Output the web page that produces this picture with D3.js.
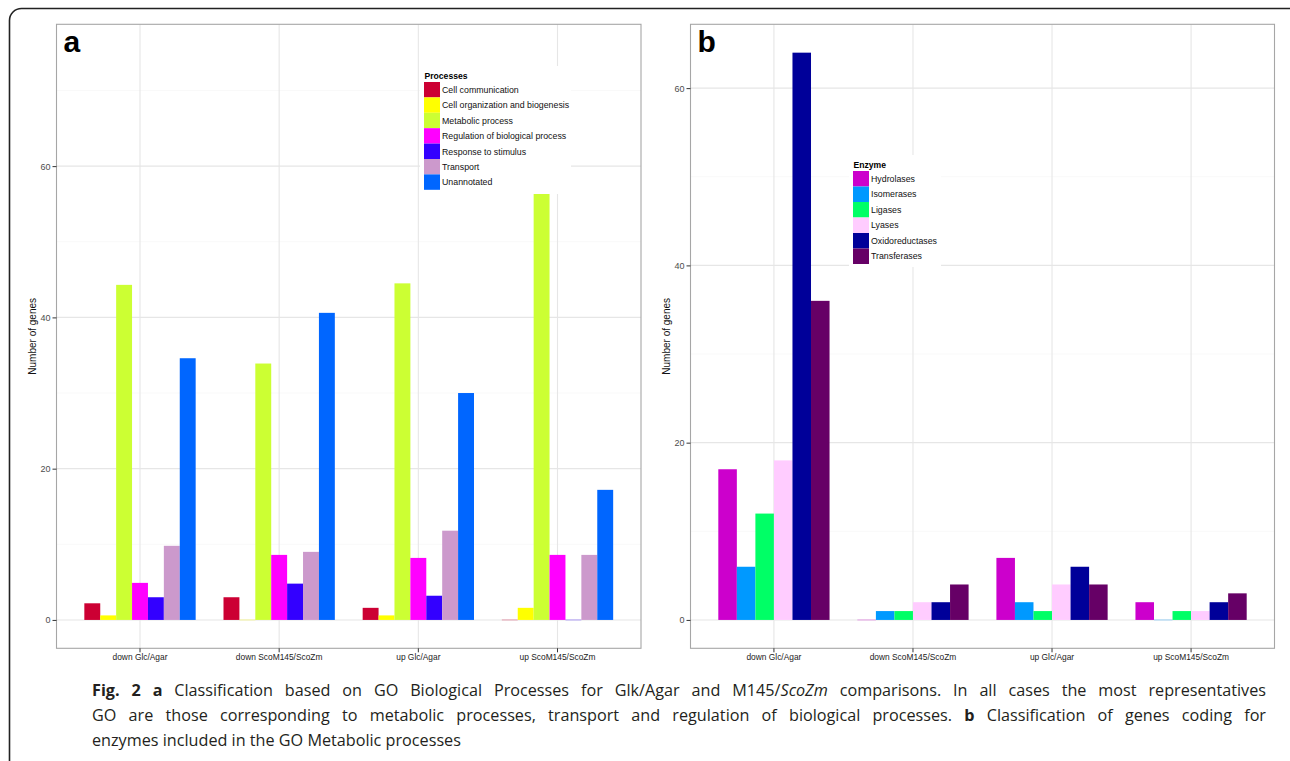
<!DOCTYPE html>
<html><head><meta charset="utf-8">
<script src="https://cdn.jsdelivr.net/npm/d3@7"></script>
<style>
html,body{margin:0;padding:0;background:#fff;}
svg{display:block;}
</style></head>
<body>
<svg id="chart" width="1290" height="761"></svg>
<script>
// ---------- DATA ----------
const categories = ["down Glc/Agar", "down ScoM145/ScoZm", "up Glc/Agar", "up ScoM145/ScoZm"];

const processNames = ["Cell communication", "Cell organization and biogenesis", "Metabolic process",
  "Regulation of biological process", "Response to stimulus", "Transport", "Unannotated"];
const processColors = ["#CC0033", "#FFFF00", "#CCFF33", "#FF00FF", "#3300FF", "#CC99CC", "#0066FF"];
// values per category, in processNames order
const cellCommunication = [2.2, 3.0, 1.6, 0];
const cellOrganization  = [0.6, 0, 0.6, 1.6];
const metabolicProcess  = [44.3, 33.9, 44.5, 56.4];
const regulation        = [4.9, 8.6, 8.2, 8.6];
const responseStimulus  = [3.0, 4.8, 3.2, 0];
const transport         = [9.8, 9.0, 11.8, 8.6];
const unannotated       = [34.6, 40.6, 30.0, 17.2];
const processTicks = [0, 20, 40, 60];
const processMinor = [10, 30, 50, 70];

const enzymeNames = ["Hydrolases", "Isomerases", "Ligases", "Lyases", "Oxidoreductases", "Transferases"];
const enzymeColors = ["#CC00CC", "#0099FF", "#00FF66", "#FFCCFF", "#000099", "#660066"];
const hydrolases      = [17, 0, 7, 2];
const isomerases      = [6, 1, 2, 0];
const ligases         = [12, 1, 1, 1];
const lyases          = [18, 2, 4, 1];
const oxidoreductases = [64, 2, 6, 2];
const transferases    = [36, 4, 4, 3];
const enzymeTicks = [0, 20, 40, 60];
const enzymeMinor = [10, 30, 50];

const processSeries = [cellCommunication, cellOrganization, metabolicProcess, regulation, responseStimulus, transport, unannotated];
const enzymeSeries = [hydrolases, isomerases, ligases, lyases, oxidoreductases, transferases];

// ---------- DRAW ----------
const svg = d3.select("#chart");
const FONT = "'Liberation Sans', Arial, sans-serif";

// outer rounded frame
svg.append("rect").attr("x", 9.5).attr("y", 8.5).attr("width", 1300).attr("height", 800)
  .attr("rx", 12).attr("fill", "none").attr("stroke", "#222").attr("stroke-width", 1.6);

function panel(opts) {
  const {left, right, top, bottom, domain, ticks, minor, names, colors, series, letter, legend} = opts;
  const g = svg.append("g");
  const y = d3.scaleLinear().domain(domain).range([bottom, top]);
  const x = d3.scaleBand().domain(categories).range([left, right]).paddingInner(0.2).paddingOuter(0.2);
  const xi = d3.scaleBand().domain(d3.range(names.length)).range([0, x.bandwidth()]).padding(0);

  // minor grid
  g.selectAll(".minor").data(minor).join("line")
    .attr("x1", left).attr("x2", right).attr("y1", d => y(d)).attr("y2", d => y(d))
    .attr("stroke", "#f7f7f7").attr("stroke-width", 0.8);
  // major grid
  g.selectAll(".majorY").data(ticks).join("line")
    .attr("x1", left).attr("x2", right).attr("y1", d => y(d)).attr("y2", d => y(d))
    .attr("stroke", "#e6e6e6").attr("stroke-width", 1.1);
  g.selectAll(".majorX").data(categories).join("line")
    .attr("x1", d => x(d) + x.bandwidth() / 2).attr("x2", d => x(d) + x.bandwidth() / 2)
    .attr("y1", top).attr("y2", bottom)
    .attr("stroke", "#e6e6e6").attr("stroke-width", 1.1);

  // bars
  const rows = [];
  series.forEach((s, si) => s.forEach((v, ci) => rows.push({si, ci, v})));
  g.selectAll(".bar").data(rows).join("rect")
    .attr("x", d => x(categories[d.ci]) + xi(d.si))
    .attr("width", xi.bandwidth())
    .attr("y", d => d.v === 0 ? y(0) - 0.5 : y(d.v))
    .attr("height", d => d.v === 0 ? 1 : y(0) - y(d.v))
    .attr("fill", d => colors[d.si])
    .attr("opacity", d => d.v === 0 ? 0.35 : 1);

  // border
  g.append("rect").attr("x", left).attr("y", top).attr("width", right - left).attr("height", bottom - top)
    .attr("fill", "none").attr("stroke", "#a6a6a6").attr("stroke-width", 1.1);

  // axes
  const ya = g.append("g").attr("transform", `translate(${left},0)`)
    .call(d3.axisLeft(y).tickValues(ticks).tickSize(4).tickPadding(2));
  ya.select(".domain").remove();
  ya.selectAll("line").attr("stroke", "#333");
  ya.selectAll("text").attr("font-family", FONT).attr("font-size", 9).attr("fill", "#4d4d4d");

  const xa = g.append("g").attr("transform", `translate(0,${bottom})`)
    .call(d3.axisBottom(x).tickSize(4).tickPadding(2));
  xa.select(".domain").remove();
  xa.selectAll("line").attr("stroke", "#333");
  xa.selectAll("text").attr("font-family", FONT).attr("font-size", 8.4).attr("fill", "#222");

  // y title
  g.append("text").attr("transform", `translate(${left - 21},${(top + bottom) / 2}) rotate(-90)`)
    .attr("text-anchor", "middle").attr("font-family", FONT).attr("font-size", 10).attr("fill", "#111")
    .text("Number of genes");

  // panel letter
  g.append("text").attr("x", left + 7).attr("y", top + 28).attr("font-family", FONT)
    .attr("font-weight", "bold").attr("font-size", 30).attr("fill", "#000").text(letter);

  // legend
  const L = legend;
  const lg = g.append("g");
  lg.append("rect").attr("x", L.x).attr("y", L.y).attr("width", L.w).attr("height", L.h).attr("fill", "#fff");
  lg.append("text").attr("x", L.x + 4.5).attr("y", L.y + 12.5).attr("font-family", FONT)
    .attr("font-weight", "bold").attr("font-size", 8.6).attr("fill", "#000").text(L.title);
  lg.selectAll(".key").data(names).join("rect")
    .attr("x", L.x + 4).attr("y", (d, i) => L.y + L.k0 + i * L.step)
    .attr("width", 16).attr("height", L.step).attr("fill", (d, i) => colors[i]);
  lg.selectAll(".lab").data(names).join("text")
    .attr("x", L.x + 22).attr("y", (d, i) => L.y + L.k0 + i * L.step + L.step / 2 + 3.2)
    .attr("font-family", FONT).attr("font-size", 8.8).attr("fill", "#111").text(d => d);
}

panel({left: 56.5, right: 641, top: 24.3, bottom: 648.3, domain: [-3.75, 78.75],
  ticks: processTicks, minor: processMinor, names: processNames, colors: processColors,
  series: processSeries, letter: "a",
  legend: {x: 420, y: 66, w: 151, h: 128, k0: 16, step: 15.4, title: "Processes"}});

panel({left: 690.5, right: 1274.5, top: 24.3, bottom: 648.3, domain: [-3.2, 67.2],
  ticks: enzymeTicks, minor: enzymeMinor, names: enzymeNames, colors: enzymeColors,
  series: enzymeSeries, letter: "b",
  legend: {x: 849, y: 155, w: 92, h: 112, k0: 16, step: 15.5, title: "Enzyme"}});

// ---------- CAPTION (justified) ----------
const capFont = "'Open Sans', 'Noto Sans', sans-serif";
const capSize = 16.2;
const capLeft = 92, capRight = 1266;
const captionLines = [
  {y: 696, justify: true, parts: [["Fig. 2 a", "b"], [" Classification based on GO Biological Processes for Glk/Agar and M145/", ""], ["ScoZm", "i"], [" comparisons. In all cases the most representatives", ""]]},
  {y: 721, justify: true, parts: [["GO are those corresponding to metabolic processes, transport and regulation of biological processes. ", ""], ["b", "b"], [" Classification of genes coding for", ""]]},
  {y: 746, justify: false, parts: [["enzymes included in the GO Metabolic processes", ""]]}
];
const cap = svg.append("g");
captionLines.forEach(line => {
  const words = [];
  let cur = [];
  line.parts.forEach(([txt, st]) => {
    const toks = txt.split(/( )/);
    toks.forEach(t => {
      if (t === " ") { if (cur.length) { words.push(cur); cur = []; } }
      else if (t.length) cur.push([t, st]);
    });
  });
  if (cur.length) words.push(cur);
  const widths = words.map(w => {
    const t = cap.append("text").attr("font-family", capFont).attr("font-size", capSize);
    w.forEach(([s, st]) => t.append("tspan").text(s)
      .attr("font-weight", st === "b" ? "bold" : null).attr("font-style", st === "i" ? "italic" : null));
    const wd = t.node().getComputedTextLength();
    t.remove();
    return wd;
  });
  const total = d3.sum(widths);
  const spaceW = 4.2;
  const gap = line.justify ? (capRight - capLeft - total) / (words.length - 1) : spaceW;
  let xpos = capLeft;
  words.forEach((w, i) => {
    const t = cap.append("text").attr("x", xpos).attr("y", line.y).attr("font-family", capFont)
      .attr("font-size", capSize).attr("fill", "#231f20");
    w.forEach(([s, st]) => t.append("tspan").text(s)
      .attr("font-weight", st === "b" ? "bold" : null).attr("font-style", st === "i" ? "italic" : null));
    xpos += widths[i] + gap;
  });
});
</script>
</body></html>
